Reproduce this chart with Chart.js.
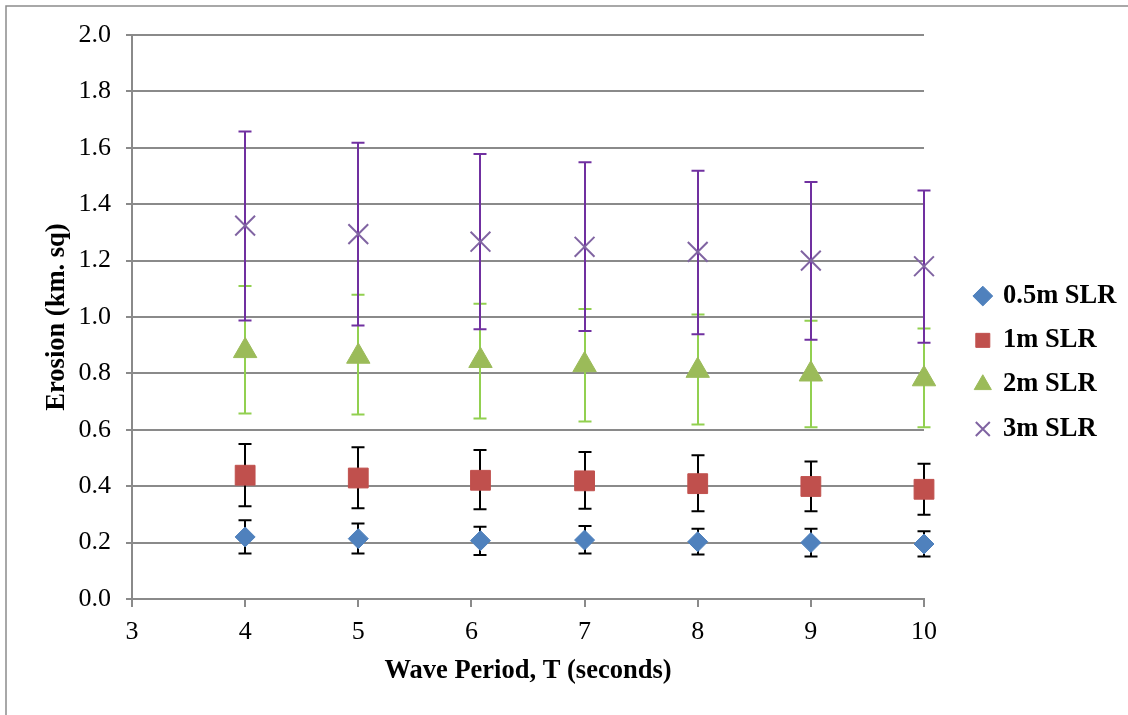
<!DOCTYPE html>
<html>
<head>
<meta charset="utf-8">
<script src="https://cdn.jsdelivr.net/npm/chart.js@4/dist/chart.umd.min.js"></script>
<style>
  html, body { margin: 0; padding: 0; background: #ffffff; }
  #wrap { position: relative; width: 1128px; height: 715px; }
</style>
</head>
<body>
<div id="wrap"><canvas id="c" width="1128" height="715"></canvas></div>
<script>
// ---- data ----
const periods = [4, 5, 6.08, 7, 8, 9, 10];
const seriesNames = ['0.5m SLR', '1m SLR', '2m SLR', '3m SLR'];

const slr05 = [0.220, 0.214, 0.207, 0.209, 0.203, 0.200, 0.195];
const slr05Hi = [0.279, 0.268, 0.256, 0.259, 0.249, 0.249, 0.240];
const slr05Lo = [0.161, 0.161, 0.156, 0.161, 0.158, 0.151, 0.151];

const slr1 = [0.439, 0.429, 0.421, 0.419, 0.409, 0.399, 0.389];
const slr1Hi = [0.550, 0.538, 0.528, 0.521, 0.510, 0.488, 0.480];
const slr1Lo = [0.329, 0.322, 0.318, 0.320, 0.311, 0.311, 0.299];

const slr2 = [0.880, 0.860, 0.845, 0.830, 0.810, 0.797, 0.780];
const slr2Hi = [1.110, 1.079, 1.047, 1.028, 1.009, 0.987, 0.959];
const slr2Lo = [0.658, 0.654, 0.640, 0.629, 0.619, 0.609, 0.609];

const slr3 = [1.324, 1.294, 1.267, 1.249, 1.231, 1.200, 1.180];
const slr3Hi = [1.658, 1.618, 1.578, 1.549, 1.519, 1.479, 1.449];
const slr3Lo = [0.988, 0.970, 0.957, 0.950, 0.939, 0.919, 0.909];

const xTicksMin = 3, xTicksMax = 10, xStep = 1;
const yMin = 0, yMax = 2.0, yStep = 0.2;

const xTitle = 'Wave Period, T (seconds)';
const yTitle = 'Erosion (km. sq)';

// ---- build ----
const toPts = (vals) => vals.map((v, i) => ({ x: periods[i], y: v }));
const errs = [
  { lo: slr05Lo, hi: slr05Hi, color: '#000000' },
  { lo: slr1Lo, hi: slr1Hi, color: '#000000' },
  { lo: slr2Lo, hi: slr2Hi, color: '#92D050' },
  { lo: slr3Lo, hi: slr3Hi, color: '#7030A0' }
];

const SERIF = "'Liberation Serif', 'Times New Roman', serif";
const GRID = '#8a8a8a';

const errorBars = {
  id: 'errorBars',
  beforeDatasetsDraw(chart) {
    const { ctx, scales: { x, y } } = chart;
    chart.data.datasets.forEach((ds, i) => {
      const e = errs[i];
      ctx.save();
      ctx.strokeStyle = e.color;
      ctx.lineWidth = 2;
      ds.data.forEach((p, j) => {
        const px = Math.round(x.getPixelForValue(p.x));
        const yl = y.getPixelForValue(e.lo[j]);
        const yh = y.getPixelForValue(e.hi[j]);
        ctx.beginPath();
        ctx.moveTo(px, yl); ctx.lineTo(px, yh);
        ctx.moveTo(px - 6.5, yl); ctx.lineTo(px + 6.5, yl);
        ctx.moveTo(px - 6.5, yh); ctx.lineTo(px + 6.5, yh);
        ctx.stroke();
      });
      ctx.restore();
    });
  }
};

const frame = {
  id: 'frame',
  beforeDraw(chart) {
    const { ctx } = chart;
    ctx.save();
    ctx.fillStyle = '#ffffff';
    ctx.fillRect(0, 0, chart.width, chart.height);
    ctx.strokeStyle = '#8c8c8c';
    ctx.lineWidth = 1.5;
    ctx.beginPath();
    ctx.moveTo(6, chart.height + 2);
    ctx.lineTo(6, 6);
    ctx.lineTo(chart.width + 2, 6);
    ctx.stroke();
    ctx.restore();
  }
};

const legendPlace = {
  id: 'legendPlace',
  beforeLayout(chart) {
    const L = chart.legend;
    if (L && !L._patched) {
      const f = L.fit;
      L.fit = function () { f.call(this); if (this.options.display) this.width = 204; };
      L._patched = true;
    }
  },
  afterLayout(chart) {
    const L = chart.legend;
    if (!L) return;
    L.left = 958; L.right = 958 + L.width;
    L.top = 265; L.bottom = 705; L.height = L.bottom - L.top;
  }
};

new Chart(document.getElementById('c'), {
  type: 'scatter',
  data: {
    datasets: [
      { label: seriesNames[0], data: toPts(slr05), pointStyle: 'rectRot', pointRadius: 10, pointHoverRadius: 10,
        backgroundColor: '#4F81BD', borderColor: '#4F81BD', borderWidth: 1, clip: false },
      { label: seriesNames[1], data: toPts(slr1), pointStyle: 'rect', pointRadius: 14, pointHoverRadius: 14,
        backgroundColor: '#C0504D', borderColor: '#C0504D', borderWidth: 1, clip: false },
      { label: seriesNames[2], data: toPts(slr2), pointStyle: 'triangle', pointRadius: 13.5, pointHoverRadius: 13.5,
        backgroundColor: '#9BBB59', borderColor: '#9BBB59', borderWidth: 1, clip: false },
      { label: seriesNames[3], data: toPts(slr3), pointStyle: 'crossRot', pointRadius: 14, pointHoverRadius: 14,
        backgroundColor: '#8064A2', borderColor: '#8064A2', borderWidth: 2, clip: false }
    ]
  },
  options: {
    responsive: false,
    animation: false,
    events: [],
    layout: { padding: { top: 35, left: 0, right: 0, bottom: 0 } },
    plugins: {
      tooltip: { enabled: false },
      legend: {
        position: 'right',
        align: 'start',
        labels: {
          usePointStyle: true,
          boxWidth: 14,
          boxHeight: 14,
          padding: 17.8,
          color: '#000000',
          font: { family: SERIF, size: 26.5, weight: 'bold' }
        }
      }
    },
    scales: {
      x: {
        type: 'linear',
        min: xTicksMin, max: xTicksMax,
        afterFit: (s) => { s.height = 116; },
        ticks: { stepSize: xStep, color: '#000000', padding: 10, font: { family: SERIF, size: 26 } },
        grid: { drawOnChartArea: false, drawTicks: true, tickLength: 8, color: GRID, lineWidth: 2 },
        border: { display: true, color: GRID, width: 2 },
        title: { display: true, text: xTitle, color: '#000000', padding: { top: 0, bottom: 28 },
                 font: { family: SERIF, size: 26.5, weight: 'bold' } }
      },
      y: {
        type: 'linear',
        min: yMin, max: yMax,
        afterFit: (s) => { s.width = 132; },
        ticks: { stepSize: yStep, color: '#000000', padding: 15, font: { family: SERIF, size: 26 },
                 callback: (v) => Number(v).toFixed(1) },
        grid: { drawOnChartArea: true, drawTicks: true, tickLength: 6, color: GRID, lineWidth: 2 },
        border: { display: true, color: GRID, width: 2 },
        title: { display: true, text: yTitle, color: '#000000', padding: { top: 41, bottom: 0 },
                 font: { family: SERIF, size: 26.5, weight: 'bold' } }
      }
    }
  },
  plugins: [frame, errorBars, legendPlace]
});
</script>
</body>
</html>
